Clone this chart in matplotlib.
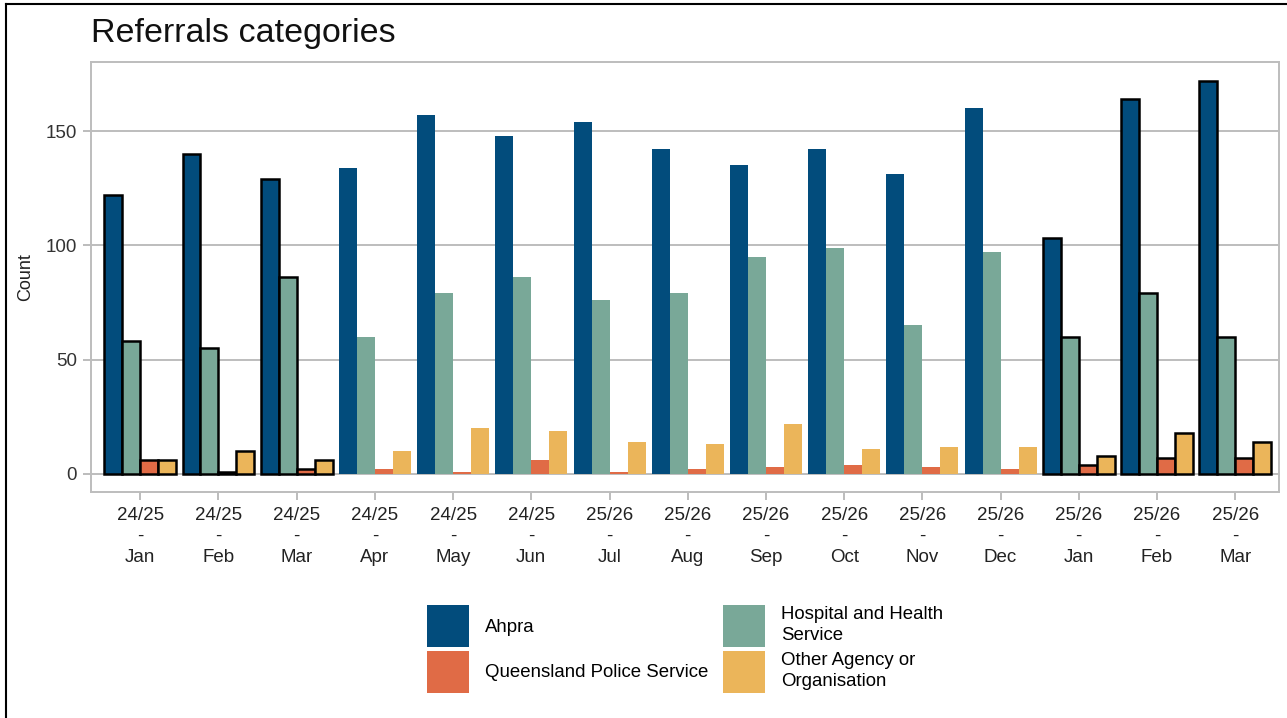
import matplotlib
matplotlib.use("Agg")
import matplotlib.pyplot as plt
import numpy as np
from matplotlib.patches import Patch
from matplotlib.lines import Line2D

plt.rcParams['font.family'] = ['Liberation Sans', 'DejaVu Sans']

years = ["24/25"] * 6 + ["25/26"] * 9
months = ["Jan", "Feb", "Mar", "Apr", "May", "Jun", "Jul", "Aug", "Sep",
          "Oct", "Nov", "Dec", "Jan", "Feb", "Mar"]
tick_labels = [f"{y}\n-\n{m}" for y, m in zip(years, months)]

series_names = ["Ahpra", "Hospital and Health\nService",
                "Queensland Police Service", "Other Agency or\nOrganisation"]
ahpra = [122, 140, 129, 134, 157, 148, 154, 142, 135, 142, 131, 160, 103, 164, 172]
hhs = [58, 55, 86, 60, 79, 86, 76, 79, 95, 99, 65, 97, 60, 79, 60]
qps = [6, 1, 2, 2, 1, 6, 1, 2, 3, 4, 3, 2, 4, 7, 7]
other = [6, 10, 6, 10, 20, 19, 14, 13, 22, 11, 12, 12, 8, 18, 14]
highlighted = [True, True, True, False, False, False, False, False, False,
               False, False, False, True, True, True]

colors = ["#024C7C", "#79A898", "#E06B46", "#EBB55A"]
series = [ahpra, hhs, qps, other]

fig = plt.figure(figsize=(12.87, 7.18), dpi=100)
ax = fig.add_axes([91/1287, 1-492/718, (1279-91)/1287, (492-62)/718])

x = np.arange(len(months))
total_w = 0.92
bw = total_w / 4
for i, (vals, col) in enumerate(zip(series, colors)):
    pos = x - total_w/2 + bw/2 + i*bw
    for p, v, h in zip(pos, vals, highlighted):
        if h:
            ax.bar(p, v, width=bw, color=col, edgecolor="black", linewidth=1.8, zorder=3)
        else:
            ax.bar(p, v, width=bw, color=col, edgecolor="none", zorder=3)

ax.set_xlim(-0.63, len(months) - 1 + 0.56)
ax.set_ylim(-7.9, 180.2)
ax.set_yticks([0, 50, 100, 150])
ax.set_xticks(x)
ax.set_xticklabels(tick_labels, fontsize=13.5, linespacing=1.3)
ax.tick_params(axis='y', labelsize=13.5, colors="#b0b0b0", labelcolor="#333333", length=6, width=1.2, pad=4)
ax.tick_params(axis='x', colors="#b0b0b0", labelcolor="#222222", length=6, width=1.2, pad=5)
ax.grid(axis='y', color="#bdbdbd", linewidth=1.4, zorder=0)
for s in ax.spines.values():
    s.set_color("#bdbdbd")
    s.set_linewidth(1.4)
ax.set_ylabel("Count", fontsize=13, color="#222222")
ax.yaxis.set_label_coords(-0.048, 0.5)

fig.text(91/1287, 1-42/718, "Referrals categories", fontsize=24.5, ha='left', va='baseline', color="#111111")

handles = [Patch(facecolor=colors[0], label=series_names[0]),
           Patch(facecolor=colors[2], label=series_names[2]),
           Patch(facecolor=colors[1], label=series_names[1]),
           Patch(facecolor=colors[3], label=series_names[3])]
leg = fig.legend(handles=handles, ncol=2, loc='center', bbox_to_anchor=(685/1287, 1-649/718),
                 frameon=False, fontsize=13.4, handlelength=2.26, handleheight=3.1,
                 handletextpad=0.86, columnspacing=0.8, labelspacing=0.2)
for t in leg.get_texts():
    t.set_linespacing(1.35)

fig.add_artist(Line2D([6/1287, 6/1287], [0, 1-4/718], color="black", linewidth=1.5))
fig.add_artist(Line2D([6/1287, 1], [1-4/718, 1-4/718], color="black", linewidth=1.5))

fig.savefig("out.png", dpi=100)
